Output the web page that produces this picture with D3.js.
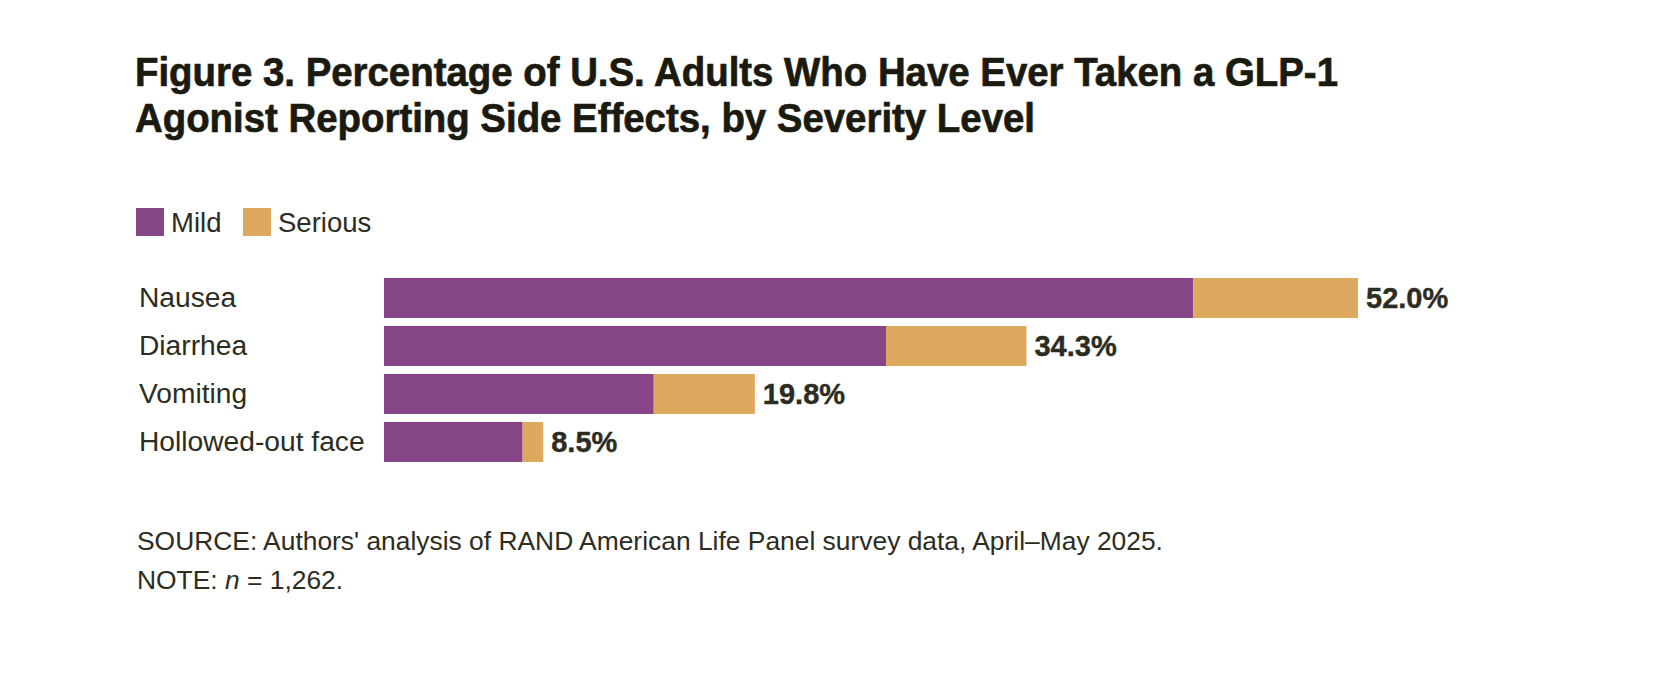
<!DOCTYPE html>
<html>
<head>
<meta charset="utf-8">
<script src="https://cdn.jsdelivr.net/npm/d3@7"></script>
<style>
  body { margin: 0; background: #fff; }
  text { font-family: "Liberation Sans", Arial, Helvetica, sans-serif; }
</style>
</head>
<body>
<div id="chart"></div>
<script>
// data
var categories = ["Nausea", "Diarrhea", "Vomiting", "Hollowed-out face"];
var mildValues = [43.2, 26.8, 14.4, 7.4];
var seriousValues = [8.8, 7.5, 5.4, 1.1];
var totalLabels = ["52.0%", "34.3%", "19.8%", "8.5%"];
var seriesNames = ["Mild", "Serious"];
var seriesColors = ["#864587", "#dea95e"];

var titleLines = [
  "Figure 3. Percentage of U.S. Adults Who Have Ever Taken a GLP-1",
  "Agonist Reporting Side Effects, by Severity Level"
];

var W = 1678, H = 674;
var textColor = "#2c2c22";

var svg = d3.select("#chart")
    .append("svg")
    .attr("width", W)
    .attr("height", H)
    .style("background", "#fff");

// title (condensed heavy, fitted to the width of the original lines)
var titleWidths = [1203, 900];
svg.selectAll("text.title")
    .data(titleLines)
    .enter()
    .append("text")
    .attr("class", "title")
    .attr("x", 135)
    .attr("y", function(d, i) { return 86 + i * 46; })
    .attr("textLength", function(d, i) { return titleWidths[i]; })
    .attr("lengthAdjust", "spacingAndGlyphs")
    .style("font-size", "41px")
    .style("font-weight", "bold")
    .style("fill", "#1b1a10")
    .style("stroke", "#1b1a10")
    .style("stroke-width", 0.7)
    .text(function(d) { return d; });

// legend
var legendX = [136, 243];
var legend = svg.selectAll("g.legend")
    .data(seriesNames)
    .enter()
    .append("g")
    .attr("class", "legend")
    .attr("transform", function(d, i) { return "translate(" + legendX[i] + ",208)"; });
legend.append("rect")
    .attr("width", 28)
    .attr("height", 28)
    .style("fill", function(d, i) { return seriesColors[i]; });
legend.append("text")
    .attr("x", 35)
    .attr("y", 24)
    .style("font-size", "27.5px")
    .style("fill", textColor)
    .text(function(d) { return d; });

// scales
var totals = mildValues.map(function(v, i) { return v + seriousValues[i]; });
var x = d3.scaleLinear()
    .domain([0, d3.max(totals)])
    .range([384, 1358]);
var y = d3.scaleBand()
    .domain(categories)
    .range([278, 462])
    .paddingInner(1 / 6)
    .paddingOuter(0);

var rows = categories.map(function(c, i) {
  return {name: c, mild: mildValues[i], serious: seriousValues[i], total: totals[i], label: totalLabels[i]};
});

// category labels
svg.selectAll("text.cat")
    .data(rows)
    .enter()
    .append("text")
    .attr("class", "cat")
    .attr("x", 139)
    .attr("y", function(d) { return y(d.name) + y.bandwidth() / 2 + 9; })
    .style("font-size", "28.2px")
    .style("fill", textColor)
    .text(function(d) { return d.name; });

// mild bars
svg.selectAll("rect.mild")
    .data(rows)
    .enter()
    .append("rect")
    .attr("class", "mild")
    .attr("x", x(0))
    .attr("y", function(d) { return y(d.name); })
    .attr("width", function(d) { return x(d.mild) - x(0); })
    .attr("height", y.bandwidth())
    .style("fill", seriesColors[0]);

// serious bars stacked on top
svg.selectAll("rect.serious")
    .data(rows)
    .enter()
    .append("rect")
    .attr("class", "serious")
    .attr("x", function(d) { return x(d.mild); })
    .attr("y", function(d) { return y(d.name); })
    .attr("width", function(d) { return x(d.total) - x(d.mild); })
    .attr("height", y.bandwidth())
    .style("fill", seriesColors[1]);

// total value labels
svg.selectAll("text.val")
    .data(rows)
    .enter()
    .append("text")
    .attr("class", "val")
    .attr("x", function(d) { return x(d.total) + 8; })
    .attr("y", function(d) { return y(d.name) + y.bandwidth() / 2 + 10; })
    .style("font-size", "29px")
    .style("font-weight", "bold")
    .style("fill", textColor)
    .style("stroke", textColor)
    .style("stroke-width", 0.4)
    .text(function(d) { return d.label; });

// source and note
svg.append("text")
    .attr("x", 137)
    .attr("y", 550)
    .style("font-size", "26.4px")
    .style("fill", textColor)
    .text("SOURCE: Authors' analysis of RAND American Life Panel survey data, April\u2013May 2025.");

var note = svg.append("text")
    .attr("x", 137)
    .attr("y", 589)
    .style("font-size", "26.4px")
    .style("fill", textColor);
note.append("tspan").text("NOTE: ");
note.append("tspan").style("font-style", "italic").text("n");
note.append("tspan").text(" = 1,262.");
</script>
</body>
</html>
